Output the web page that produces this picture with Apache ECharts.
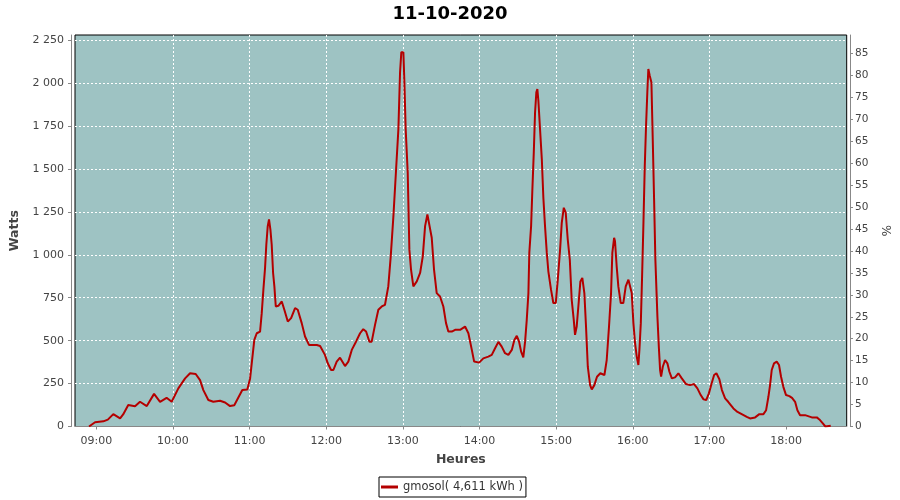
<!DOCTYPE html>
<html>
<head>
<meta charset="utf-8">
<script src="https://cdn.jsdelivr.net/npm/echarts@6/dist/echarts.min.js"></script>
<style>html,body{margin:0;padding:0;background:#fff;}#c{width:900px;height:500px;}</style>
</head>
<body>
<div id="c"></div>
<script>
// minutes after 09:00
const minutes = [-5.7,-1,5.5,9,13.3,18.6,21,25,30.3,34.2,39.5,45.2,49.9,55,59,64.2,69.5,73.4,77.8,81.2,83.8,87.7,91.6,96.9,100.8,104.7,108,111.2,114.3,118.2,120.4,122.1,123.7,125.6,128.2,129.5,130.8,132.1,133.1,134.2,135.2,136.3,137.3,138.4,139.4,140.5,142.5,145.2,147.2,149.9,152.5,155.6,157.7,160.8,163.4,166.5,172.6,175.2,179,181.2,183.8,185.6,188.2,190.8,194.7,197.3,200,203.3,206.5,209,211.2,213.8,215.6,218.2,220.8,223.5,226,228.6,230.5,232.6,234.7,236.5,237.8,238.8,240.4,241.2,242.2,243.8,245.1,246.4,248.2,250.9,253.5,255.6,257.4,259.2,260.5,262.6,264.4,266.5,269.1,271.7,273.8,275.6,278.3,280.9,284.8,288.7,291.3,294,295.8,299.7,303,306.9,309.6,312.2,314.8,317.4,320,322.6,325.3,327.3,329.2,331,332.6,334.3,335.7,337,338.3,339,340.4,341.4,342.5,343.5,344.5,345.3,346.1,347.4,348.8,350,351.3,352.7,353.9,356,357.8,359.7,361.3,363.1,364.4,366,367.5,369.1,370.7,372.2,373.8,374.8,376.1,377.4,379,380.5,382.1,383.4,384.8,386.6,387.9,389.9,392,394.6,397.8,399.6,401.4,403,404,405.4,406.1,407.4,408.7,410.6,412.6,414.5,416.6,417.9,419.2,420.5,421.8,423.1,424.4,425.2,426.3,427.3,428.3,429.4,430.4,431.4,432.2,433.3,434.6,435.7,436.7,437.7,439.3,440.4,441.4,442.2,443.5,445.3,447.1,448.7,450.6,453.1,455.7,458.4,461.7,464.9,468,470.6,473.2,475.4,477.5,479.6,481.9,483.7,485.5,487.8,489.8,492.3,494.7,498.8,502,505.3,509.3,511.8,515.8,519.1,522.3,524.4,526.2,527.5,528.8,530.6,532.7,534.5,536.1,537.9,540,542.6,544.7,547.1,548.9,551,554.9,556.1,560.2,564.1,566.1,568.8,570.8,575];
const watts = [0,25,30,40,72,47,70,125,118,144,119,190,144,167,144,222,280,310,306,270,212,154,144,150,140,119,124,169,212,216,280,397,504,543,553,660,797,923,1060,1167,1206,1147,1060,894,816,699,703,728,680,611,631,690,680,602,524,475,475,469,417,368,329,329,378,401,352,378,446,494,543,567,553,494,494,592,680,699,709,816,991,1225,1498,1732,2063,2180,2180,2005,1732,1479,1030,913,816,845,894,991,1167,1235,1235,1099,913,777,757,699,602,553,553,563,563,582,543,446,378,372,397,407,417,456,493,465,427,417,446,504,528,494,436,403,494,621,777,1011,1167,1381,1595,1829,1946,1965,1897,1732,1556,1332,1167,1011,904,797,719,719,855,1030,1186,1274,1245,1089,972,738,621,534,582,699,845,865,777,582,348,241,216,241,290,310,300,387,582,777,1011,1099,1079,933,816,719,719,816,855,845,777,602,485,407,358,446,602,874,1167,1517,1751,1946,2082,2043,2004,1654,1322,972,640,465,329,290,348,387,368,319,280,286,310,280,247,241,247,222,183,158,154,193,255,300,310,275,212,164,144,105,85,72,56,47,53,72,72,95,173,241,329,368,378,358,290,231,183,177,167,144,95,66,66,76,53,53,41,18,0,5];
const hourTicks = [540,600,660,720,780,840,900,960,1020,1080];
const hourLabels = ['09:00','10:00','11:00','12:00','13:00','14:00','15:00','16:00','17:00','18:00'];
const seriesName = 'gmosol( 4,611 kWh )';
const titleText = '11-10-2020';

const points = minutes.map((m, i) => [540 + m, watts[i]]);
const FONT = 'DejaVu Sans';
const chart = echarts.init(document.getElementById('c'), null, {renderer: 'canvas'});
chart.setOption({
  animation: false,
  backgroundColor: '#ffffff',
  title: {
    text: titleText, left: 'center', top: 0,
    textStyle: {fontFamily: FONT, fontSize: 18, fontWeight: 'bold', color: '#000'}
  },
  legend: {
    left: 379, top: 477,
    borderColor: '#000', borderWidth: 1, borderRadius: 0,
    padding: [4, 3, 4, 2],
    itemWidth: 17, itemHeight: 3, icon: 'rect',
    textStyle: {fontFamily: FONT, fontSize: 11.5, color: '#333'},
    data: [seriesName]
  },
  grid: {
    left: 75, right: 53.3, top: 35, bottom: 73.5,
    show: true, backgroundColor: '#9EC3C3', borderColor: '#000', borderWidth: 1
  },
  xAxis: {
    type: 'value', min: 523.3, max: 1127.5,
    offset: 4,
    name: 'Heures', nameLocation: 'middle', nameGap: 23,
    nameTextStyle: {fontFamily: FONT, fontSize: 12.5, fontWeight: 'bold', color: '#444'},
    axisLine: {show: true, lineStyle: {color: '#888'}},
    axisTick: {show: true, length: 3, lineStyle: {color: '#888'}, customValues: hourTicks},
    axisLabel: {
      fontFamily: FONT, fontSize: 11, color: '#444', margin: 5,
      customValues: hourTicks,
      formatter: v => hourLabels[hourTicks.indexOf(Math.round(v))] || ''
    },
    splitLine: {show: true, showMinLine: false, showMaxLine: false, lineStyle: {color: '#fff', type: [2, 2], width: 1}}
  },
  yAxis: [{
    type: 'value', min: 0, max: 2280, interval: 250,
    position: 'left', offset: 4,
    name: 'Watts', nameLocation: 'middle', nameGap: 43,
    nameTextStyle: {fontFamily: FONT, fontSize: 12.5, fontWeight: 'bold', color: '#444'},
    axisLine: {show: true, lineStyle: {color: '#888'}},
    axisTick: {show: true, length: 3, lineStyle: {color: '#888'}},
    axisLabel: {
      fontFamily: FONT, fontSize: 11, color: '#444', margin: 7,
      showMaxLabel: false,
      formatter: v => v >= 1000 ? Math.floor(v / 1000) + ' ' + String(v % 1000).padStart(3, '0') : String(v)
    },
    splitLine: {show: true, showMinLine: false, showMaxLine: false, lineStyle: {color: '#fff', type: [2, 2], width: 1}}
  }, {
    type: 'value', min: 0, max: 89.2, interval: 5,
    position: 'right', offset: 3.3,
    name: '%', nameLocation: 'middle', nameGap: 26, nameRotate: -90,
    nameTextStyle: {fontFamily: FONT, fontSize: 12, color: '#444'},
    axisLine: {show: true, lineStyle: {color: '#888'}},
    axisTick: {show: true, length: 3, lineStyle: {color: '#888'}},
    axisLabel: {fontFamily: FONT, fontSize: 10.5, color: '#444', margin: 5, showMaxLabel: false},
    splitLine: {show: false}
  }],
  series: [{
    name: seriesName, type: 'line', yAxisIndex: 0,
    data: points, showSymbol: false, symbol: 'none',
    lineStyle: {color: '#B40000', width: 2},
    itemStyle: {color: '#B40000'}
  }]
});
</script>
</body>
</html>
